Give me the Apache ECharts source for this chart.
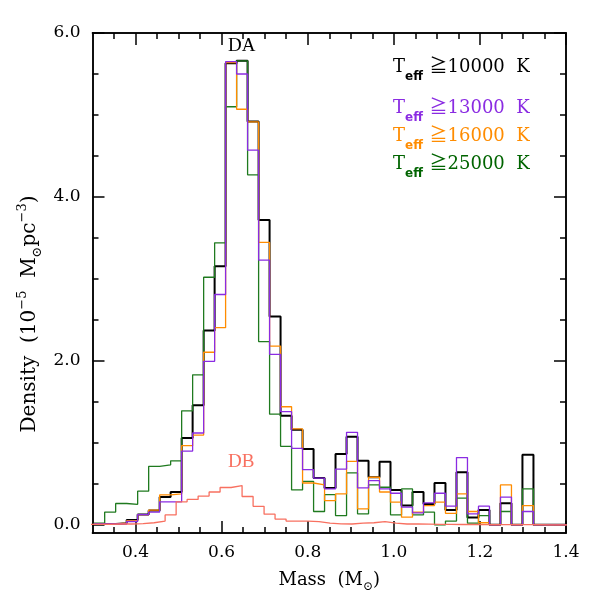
<!DOCTYPE html>
<html>
<head>
<meta charset="utf-8">
<script src="https://cdn.jsdelivr.net/npm/echarts@6/dist/echarts.min.js"></script>
<style>
  html, body { margin: 0; padding: 0; background: #fff; }
  #chart { width: 598px; height: 598px; }
</style>
</head>
<body>
<div id="chart"></div>
<script>
// DA bin edges (mass, Msun) and densities per Teff cut, 1e-5 Msun/pc^3
var daEdges = [0.3028, 0.3283, 0.3538, 0.3794, 0.4049, 0.4305, 0.4560, 0.4815, 0.5071, 0.5326,
  0.5582, 0.5837, 0.6092, 0.6348, 0.6603, 0.6859, 0.7114, 0.7369, 0.7625, 0.7880,
  0.8136, 0.8391, 0.8646, 0.8902, 0.9157, 0.9413, 0.9668, 0.9923, 1.0179, 1.0434,
  1.0690, 1.0945, 1.1200, 1.1456, 1.1711, 1.1967, 1.2222, 1.2477, 1.2733, 1.2988,
  1.3244, 1.3499, 1.3755, 1.4010];

var t10000 = [0.01, 0.01, 0.02, 0.06, 0.125, 0.175, 0.34, 0.40, 1.06, 1.46, 2.37, 3.155,
  5.63, 5.66, 4.92, 3.72, 2.54, 1.33, 1.16, 0.925, 0.57, 0.45, 0.864, 1.075, 0.78, 0.58,
  0.77, 0.426, 0.235, 0.40, 0.255, 0.51, 0.18, 0.64, 0.09, 0.18, 0, 0.264, 0, 0.855, 0, 0, 0];
var t13000 = [0.01, 0.01, 0.01, 0.04, 0.125, 0.155, 0.28, 0.28, 0.90, 1.12, 1.995, 2.81,
  5.65, 5.50, 4.57, 3.23, 2.08, 1.38, 0.933, 0.673, 0.57, 0.438, 0.68, 1.128, 0.45, 0.54,
  0.438, 0.385, 0.215, 0.146, 0.268, 0.385, 0.227, 0.82, 0.134, 0.227, 0, 0.337, 0, 0.162, 0, 0, 0];
var t16000 = [0.01, 0.01, 0.02, 0.05, 0.125, 0.18, 0.365, 0.377, 0.965, 1.095, 2.105, 2.405,
  5.64, 5.07, 4.915, 3.445, 2.18, 1.44, 1.17, 0.51, 0.487, 0.296, 0.377, 0.775, 0.195, 0.58,
  0.40, 0.276, 0.093, 0.154, 0.235, 0.276, 0.14, 0.377, 0.162, 0.025, 0, 0.487, 0, 0.235, 0, 0, 0];
var t25000 = [0.02, 0.155, 0.26, 0.25, 0.41, 0.714, 0.73, 0.78, 1.39, 1.83, 3.02, 3.44,
  5.10, 5.66, 4.27, 2.235, 1.35, 0.957, 0.426, 0.53, 0.162, 0.369, 0.113, 0.633, 0.134, 0.487,
  0.458, 0.122, 0.438, 0.122, 0.154, 0.0, 0.045, 0.325, 0.02, 0.113, 0, 0.162, 0, 0.438, 0, 0, 0];

// DB histogram uses bins shifted by half a bin
var dbEdges = [0.2900, 0.3155, 0.3410, 0.3666, 0.3921, 0.4177, 0.4432, 0.4687, 0.4943, 0.5198,
  0.5454, 0.5709, 0.5964, 0.6220, 0.6475, 0.6731, 0.6986, 0.7241, 0.7497, 0.7752,
  0.8008, 0.8263, 0.8518, 0.8774, 0.9029, 0.9285, 0.9540, 0.9795, 1.0051, 1.0306,
  1.0562, 1.0817, 1.1072, 1.1328, 1.1583, 1.1839, 1.2094, 1.2349, 1.2605, 1.2860,
  1.3116, 1.3371, 1.3627, 1.3882, 1.4138];
var db = [0.005, 0.005, 0.01, 0.01, 0.015, 0.025, 0.045, 0.12, 0.28, 0.31, 0.35, 0.40, 0.455,
  0.478, 0.345, 0.225, 0.13, 0.07, 0.045, 0.045, 0.04, 0.02, 0.012, 0.01, 0.02, 0.025, 0.04,
  0.02, 0.01, 0.01, 0.008, 0.005, 0.005, 0.004, 0.004, 0.003, 0.003, 0.002, 0.002, 0.002, 0.002, 0, 0, 0];

var xMajor = [0.4, 0.6, 0.8, 1.0, 1.2, 1.4];
var xMinor = [0.35, 0.4, 0.45, 0.5, 0.55, 0.6, 0.65, 0.7, 0.75, 0.8, 0.85, 0.9, 0.95,
  1.0, 1.05, 1.1, 1.15, 1.2, 1.25, 1.3, 1.35];
var yMajor = [0, 2, 4, 6];
var yMinor = [0.5, 1, 1.5, 2.5, 3, 3.5, 4.5, 5, 5.5];

var legendRows = [
  { cut: '10000', color: '#000000', y: 53 },
  { cut: '13000', color: '#8a2be2', y: 94 },
  { cut: '16000', color: '#ff8c00', y: 122 },
  { cut: '25000', color: '#006400', y: 150 }
];

// turn edges + values into step points
function steps(edges, vals) {
  var out = [];
  for (var i = 0; i < vals.length; i++) out.push([edges[i], vals[i]]);
  out.push([edges[vals.length], vals[vals.length - 1]]);
  return out;
}

var serif = '"DejaVu Serif", "Noto Sans CJK JP", serif';
var chart = echarts.init(document.getElementById('chart'));

function xAx(pos, ticks, len, withLabels) {
  var a = {
    type: 'value', min: 0.3, max: 1.4, position: pos,
    axisLine: { show: true, onZero: false, lineStyle: { color: '#000', width: 1.5 } },
    axisTick: { show: true, inside: true, length: len, customValues: ticks, lineStyle: { color: '#000', width: 1.5 } },
    axisLabel: { show: false },
    splitLine: { show: false }
  };
  if (withLabels) {
    a.axisLabel = {
      show: true, customValues: xMajor, margin: 11, color: '#000', fontSize: 17, fontFamily: serif,
      formatter: function (v) { return v.toFixed(1); }
    };
    a.name = 'Mass  (M{s|⊙})';
    a.nameLocation = 'middle';
    a.nameGap = 34;
    a.nameTextStyle = {
      color: '#000', fontSize: 18, fontFamily: serif,
      rich: { s: { fontSize: 12, fontFamily: serif, verticalAlign: 'bottom', lineHeight: 26 } }
    };
  }
  return a;
}

function yAx(pos, ticks, len, withLabels) {
  var a = {
    type: 'value', min: -0.1, max: 6.0, position: pos,
    axisLine: { show: true, onZero: false, lineStyle: { color: '#000', width: 1.5 } },
    axisTick: { show: true, inside: true, length: len, customValues: ticks, lineStyle: { color: '#000', width: 1.5 } },
    axisLabel: { show: false },
    splitLine: { show: false }
  };
  if (withLabels) {
    a.axisLabel = {
      show: true, customValues: yMajor, margin: 12, color: '#000', fontSize: 17, fontFamily: serif,
      formatter: function (v) { return v.toFixed(1); }
    };
  }
  return a;
}

function line(data, color, width) {
  return {
    type: 'line', step: 'end', data: data, showSymbol: false, silent: true,
    xAxisIndex: 0, yAxisIndex: 0, animation: false,
    lineStyle: { color: color, width: width }
  };
}

var graphics = [
  { type: 'text', left: 228, top: 37, style: { text: 'DA', fill: '#000', font: '19px "Liberation Serif", serif' } },
  { type: 'text', left: 228, top: 453, style: { text: 'DB', fill: '#f87060', font: '19px "Liberation Serif", serif' } },
  // y axis title, rotated
  {
    type: 'text', x: 30, y: 314, rotation: Math.PI / 2,
    style: {
      text: '{d|Density  (10}{sup|−5}{d|  M}{sub|⊙}{d|pc}{sup|−3}{d|)}',
      align: 'center', verticalAlign: 'middle', fill: '#000',
      rich: {
        d: { fontSize: 20, fontFamily: serif, lineHeight: 28, verticalAlign: 'middle', fill: '#000' },
        sup: { fontSize: 13, fontFamily: serif, lineHeight: 28, verticalAlign: 'top', fill: '#000' },
        sub: { fontSize: 13, fontFamily: serif, lineHeight: 28, verticalAlign: 'bottom', fill: '#000' }
      }
    }
  }
];
legendRows.forEach(function (r) {
  graphics.push({
    type: 'text', left: 393, top: r.y + 5,
    style: {
      text: '{t|T}{e|eff}  {n|≧' + r.cut + '  K}',
      fill: r.color,
      rich: {
        t: { fontSize: 18, fontFamily: serif, lineHeight: 24, verticalAlign: 'middle', fill: r.color },
        e: { fontSize: 12, fontFamily: '"DejaVu Sans", sans-serif', fontWeight: 'bold', lineHeight: 31, verticalAlign: 'bottom', fill: r.color },
        n: { fontSize: 18, fontFamily: serif, lineHeight: 24, verticalAlign: 'middle', fill: r.color }
      }
    }
  });
});

var option = {
  animation: false,
  backgroundColor: '#fff',
  grid: { left: 92.5, right: 32, top: 33, bottom: 64 },
  xAxis: [
    xAx('bottom', xMajor, 12, true),
    xAx('bottom', xMinor, 6, false),
    xAx('top', xMajor, 12, false),
    xAx('top', xMinor, 6, false)
  ],
  yAxis: [
    yAx('left', yMajor, 12, true),
    yAx('left', yMinor, 6, false),
    yAx('right', yMajor, 12, false),
    yAx('right', yMinor, 6, false)
  ],
  series: [
    line(steps(daEdges, t10000), '#000000', 2),
    line(steps(daEdges, t25000), '#1f7a1f', 1.3),
    line(steps(daEdges, t16000), '#ff8c00', 1.3),
    line(steps(daEdges, t13000), '#8a2be2', 1.3),
    line(steps(dbEdges, db), '#f87060', 1.3)
  ],
  graphic: graphics
};
chart.setOption(option);
</script>
</body>
</html>
